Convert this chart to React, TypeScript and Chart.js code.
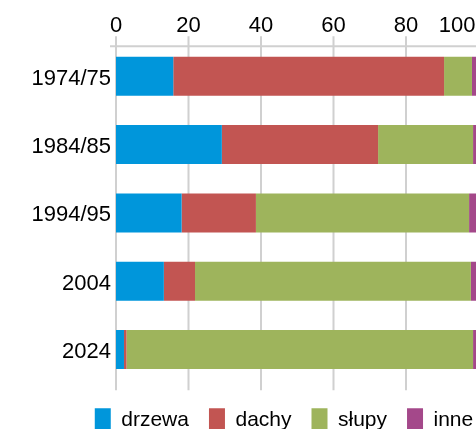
import React, { useEffect, useRef } from "react";
import { Chart, registerables } from "chart.js";

Chart.register(...registerables);

const categories = ["1974/75", "1984/85", "1994/95", "2004", "2024"];
const drzewa = [15.8, 29.2, 18.1, 13.2, 2.2];
const dachy = [74.7, 43.1, 20.5, 8.6, 0.7];
const slupy = [7.7, 26.2, 58.8, 76.1, 95.6];
const inne = [1.8, 1.5, 2.6, 2.1, 1.5];
const seriesNames = ["drzewa", "dachy", "słupy", "inne"];
const seriesColors = ["#0096db", "#c25552", "#9eb45c", "#a4488a"];
const xTicks = [0, 20, 40, 60, 80, 100];

const FONT = "'Liberation Sans', Arial, sans-serif";

const gridPlugin = {
  id: "customGrid",
  beforeDatasetsDraw(chart: any) {
    const { ctx, chartArea, scales } = chart;
    const x = scales.x;
    const axisY = chartArea.top + 4;
    ctx.save();
    ctx.strokeStyle = "#d0d0d0";
    ctx.lineWidth = 2;
    x.ticks.forEach((t: any) => {
      const px = x.getPixelForValue(t.value);
      ctx.beginPath();
      ctx.moveTo(px, axisY - 10);
      ctx.lineTo(px, chartArea.bottom + 6.5);
      ctx.stroke();
    });
    ctx.beginPath();
    ctx.moveTo(chartArea.left - 6, axisY);
    ctx.lineTo(chartArea.right + 20, axisY);
    ctx.stroke();
    ctx.restore();
  },
};

export default function App() {
  const ref = useRef<HTMLCanvasElement>(null);
  useEffect(() => {
    if (!ref.current) return;
    const values = [drzewa, dachy, slupy, inne];
    const chart = new Chart(ref.current, {
      type: "bar",
      data: {
        labels: categories,
        datasets: values.map((d, i) => ({
          label: seriesNames[i],
          data: d,
          backgroundColor: seriesColors[i],
          borderWidth: 0,
          xAxisID: "x",
          yAxisID: "y",
          barPercentage: 0.571,
          categoryPercentage: 1,
        })),
      },
      options: {
        indexAxis: "y",
        responsive: false,
        animation: false,
        layout: { padding: { left: 30, right: 0, top: 9.75, bottom: 0.7 } },
        plugins: {
          tooltip: { enabled: false },
          legend: {
            display: true,
            position: "bottom",
            align: "center",
            labels: {
              boxWidth: 16,
              boxHeight: 24,
              padding: 20,
              color: "#000",
              font: { family: FONT, size: 21 },
            },
          },
        },
        scales: {
          x: {
            type: "linear",
            position: "top",
            stacked: true,
            min: 0,
            max: 100,
            afterBuildTicks: (s: any) => {
              s.ticks = xTicks.map((v) => ({ value: v }));
            },
            afterFit: (s: any) => {
              s.paddingLeft = 0;
              s.paddingRight = 59.5;
            },
            grid: { display: false, drawTicks: false, tickLength: 0 },
            border: { display: false },
            ticks: {
              padding: 3,
              color: "#000",
              font: { family: FONT, size: 22 },
              maxRotation: 0,
              autoSkip: false,
              // the last label is kept inside the visible edge, as in the reference
              callback: (v: any) =>
                v === xTicks[xTicks.length - 1] ? String(v) + "       " : String(v),
            },
          },
          gap: {
            type: "linear",
            position: "bottom",
            display: true,
            grid: { display: false, drawTicks: false, tickLength: 0 },
            border: { display: false },
            ticks: { display: false },
            afterFit: (s: any) => {
              s.height = 4.65;
              s.paddingLeft = 0;
              s.paddingRight = 0;
            },
          },
          y: {
            type: "category",
            stacked: true,
            grid: { display: false, drawTicks: false, tickLength: 0 },
            border: { display: false },
            afterFit: (s: any) => {
              s.width = 86;
            },
            ticks: {
              padding: 5,
              labelOffset: 2.5,
              color: "#000",
              font: { family: FONT, size: 22 },
            },
          },
        },
      },
      plugins: [gridPlugin],
    });
    return () => chart.destroy();
  }, []);

  return (
    <div
      style={{
        position: "fixed",
        left: 0,
        top: 0,
        width: 476,
        height: 429,
        overflow: "hidden",
        background: "#fff",
      }}
    >
      <canvas
        ref={ref}
        width={538}
        height={443}
        style={{ display: "block", width: 538, height: 443 }}
      />
    </div>
  );
}
